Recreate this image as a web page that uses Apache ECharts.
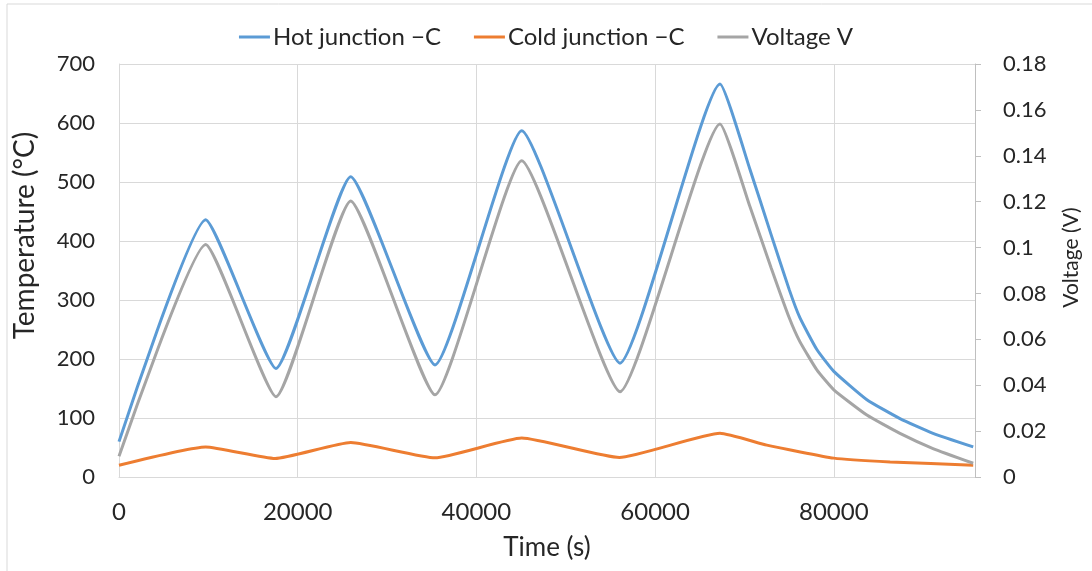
<!DOCTYPE html>
<html>
<head>
<meta charset="utf-8">
<script src="https://cdn.jsdelivr.net/npm/echarts@6/dist/echarts.min.js"></script>
<style>
  html, body { margin: 0; padding: 0; background: #fff; }
  #chart { width: 1092px; height: 571px; }
</style>
</head>
<body>
<div id="chart"></div>
<script>
// time (s) shared by hot junction and voltage
const times = [0, 9700, 17570, 25930, 35370, 45070, 56070, 67260, 70600, 73000, 75000, 76200, 78100, 80000, 83700, 87400, 91100, 95600]
const hotTemp = [60, 436, 184, 509, 190, 587, 193, 666, 522, 410, 318, 270, 216, 179, 131, 99, 74, 51]
const voltage = [0.009, 0.1013, 0.035, 0.1203, 0.0358, 0.1378, 0.0372, 0.1539, 0.118, 0.091, 0.0695, 0.059, 0.0467, 0.038, 0.027, 0.019, 0.0124, 0.006]

const coldTimes = [0, 9700, 17470, 25930, 35370, 45070, 56000, 67260, 72500, 80000, 86300, 95600]
const coldTemp = [20, 51, 31.5, 58.5, 32.5, 66, 33, 74, 54, 32, 25.5, 20]

const tempTicks = { min: 0, max: 700, interval: 100 }
const voltTicks = { min: 0, max: 0.18, interval: 0.02 }
const timeTicks = { min: 0, max: 95800, interval: 20000 }

const seriesNames = ['Hot junction −C', 'Cold junction −C', 'Voltage V']
const colors = ['#5B9BD5', '#ED7D31', '#A5A5A5']

function pairs (xs, ys) {
  return xs.map((x, i) => [x, ys[i]])
}

const font = 'Lato, "Open Sans", sans-serif'
const textColor = '#262626'
const gridColor = '#d9d9d9'

const chart = echarts.init(document.getElementById('chart'))
chart.setOption({
  animation: false,
  textStyle: { fontFamily: font, color: textColor },
  color: colors,
  graphic: [{
    type: 'rect',
    shape: { x: 7, y: 4, width: 1100, height: 600 },
    style: { fill: 'none', stroke: '#d9d9d9', lineWidth: 1 },
    silent: true
  }],
  legend: {
    top: 20,
    left: 'center',
    icon: 'rect',
    itemWidth: 31,
    itemHeight: 3,
    itemGap: 33,
    textStyle: { fontSize: 24, color: textColor, fontFamily: font, padding: [0, 0, 0, -2] },
    data: seriesNames
  },
  grid: { left: 119, right: 117, top: 64, bottom: 94 },
  xAxis: {
    type: 'value',
    min: timeTicks.min,
    max: timeTicks.max,
    interval: timeTicks.interval,
    name: 'Time (s)',
    nameLocation: 'middle',
    nameGap: 58,
    nameTextStyle: { fontSize: 26, color: textColor },
    axisLine: { show: true, lineStyle: { color: gridColor } },
    axisTick: { show: false },
    axisLabel: {
      fontSize: 24,
      color: textColor,
      margin: 23,
      showMaxLabel: false,
      formatter: v => String(v)
    },
    splitLine: { show: true, lineStyle: { color: gridColor } }
  },
  yAxis: [{
    type: 'value',
    min: tempTicks.min,
    max: tempTicks.max,
    interval: tempTicks.interval,
    name: 'Temperature (°C)',
    nameLocation: 'middle',
    nameGap: 80,
    nameTextStyle: { fontSize: 28, color: textColor, padding: [0, 0, 0, 70] },
    axisLine: { show: true, lineStyle: { color: gridColor } },
    axisTick: { show: false },
    axisLabel: { fontSize: 22, color: textColor, margin: 24 },
    splitLine: { show: true, lineStyle: { color: gridColor } }
  }, {
    type: 'value',
    position: 'right',
    min: voltTicks.min,
    max: voltTicks.max,
    interval: voltTicks.interval,
    name: 'Voltage (V)',
    nameLocation: 'middle',
    nameGap: 86,
    nameTextStyle: { fontSize: 21, color: textColor, padding: [0, 0, 0, 26] },
    axisLine: { show: true, lineStyle: { color: '#bfbfbf' } },
    axisTick: { show: true, length: 6, lineStyle: { color: '#bfbfbf' } },
    axisLabel: { fontSize: 22, color: textColor, margin: 28 },
    splitLine: { show: false }
  }],
  series: [{
    name: seriesNames[0],
    type: 'line',
    yAxisIndex: 0,
    symbol: 'none',
    smooth: 0.15,
    lineStyle: { width: 3 },
    data: pairs(times, hotTemp)
  }, {
    name: seriesNames[1],
    type: 'line',
    yAxisIndex: 0,
    symbol: 'none',
    smooth: 0.15,
    lineStyle: { width: 3 },
    data: pairs(coldTimes, coldTemp)
  }, {
    name: seriesNames[2],
    type: 'line',
    yAxisIndex: 1,
    symbol: 'none',
    smooth: 0.15,
    lineStyle: { width: 3 },
    data: pairs(times, voltage)
  }]
})
</script>
</body>
</html>
